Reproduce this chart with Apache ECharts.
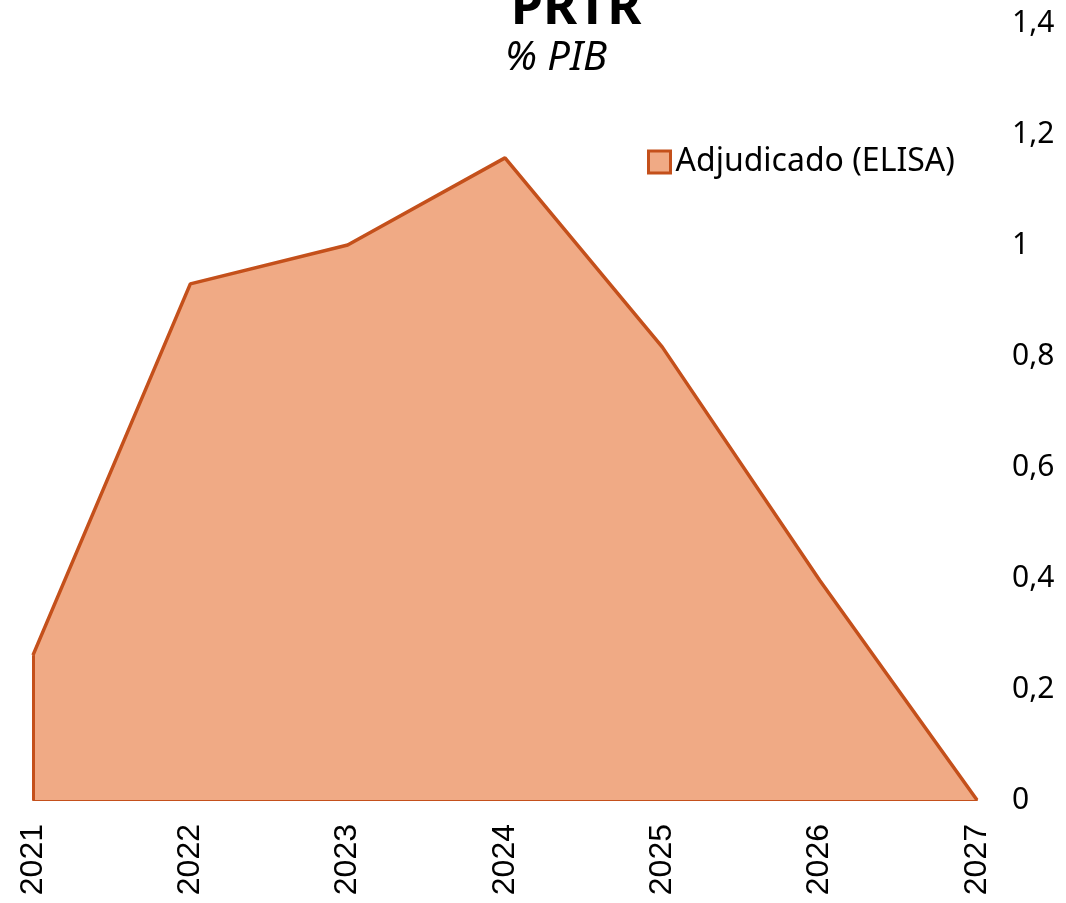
<!DOCTYPE html>
<html><head><meta charset="utf-8">
<script src="https://cdn.jsdelivr.net/npm/echarts@6/dist/echarts.min.js"></script>
<style>html,body{margin:0;padding:0;background:#fff}#c{width:1066px;height:903px}</style>
</head><body><div id="c"></div>
<script>
const categories = ['2021','2022','2023','2024','2025','2026','2027'];
const adjudicado = [0.261, 0.93, 1.0, 1.157, 0.816, 0.396, 0];
const yTicks = [0, 0.2, 0.4, 0.6, 0.8, 1, 1.2, 1.4];
const seriesName = 'Adjudicado (ELISA)';

const fillColor = '#F0AA85';
const lineColor = '#C4501B';
const chart = echarts.init(document.getElementById('c'), null, {renderer:'canvas'});
chart.setOption({
  backgroundColor:'#ffffff',
  animation:false,
  title:[
    {text:'PRTR', left:571, top:-22, textAlign:'center',
     textStyle:{fontFamily:'Noto Sans', fontSize:52, fontWeight:'bold', color:'#000'}},
    {text:'% PIB', left:551, top:34, textAlign:'center',
     textStyle:{fontFamily:'Noto Sans', fontSize:40, fontStyle:'italic', fontWeight:'normal', color:'#000'}}
  ],
  legend:{
    data:[{name:seriesName, icon:'rect'}],
    left:642, top:141, itemWidth:22, itemHeight:22, itemGap:8,
    textStyle:{fontFamily:'Noto Sans', fontSize:32, color:'#000'},
    itemStyle:{color:fillColor, borderColor:lineColor, borderWidth:3}
  },
  grid:{left:33, right:89, top:23, bottom:103, containLabel:false},
  xAxis:{
    type:'category', data:categories, boundaryGap:false,
    axisLine:{show:true, lineStyle:{color:lineColor, width:2}},
    axisTick:{show:false},
    axisLabel:{rotate:90, margin:24, fontFamily:'Liberation Sans', fontSize:32, color:'#000'}
  },
  yAxis:{
    type:'value', position:'right', min:0, max:1.4, interval:0.2,
    axisLine:{show:false}, axisTick:{show:false}, splitLine:{show:false},
    axisLabel:{margin:35, fontFamily:'Noto Sans', fontSize:30, color:'#000', padding:[4,0,0,0],
      formatter:function(v){ const t = yTicks.find(x=>Math.abs(x-v)<1e-9); return (t===undefined? v : t).toString().replace('.', ','); }}
  },
  series:[{
    name:seriesName, type:'line', data:adjudicado,
    symbol:'none', smooth:false,
    lineStyle:{color:lineColor, width:3.5},
    itemStyle:{color:fillColor, borderColor:lineColor},
    areaStyle:{color:fillColor, opacity:1},
    markLine:{
      silent:true, symbol:'none', label:{show:false},
      lineStyle:{color:lineColor, width:3, type:'solid'},
      data:[[{coord:[categories[0],0]},{coord:[categories[0],adjudicado[0]]}]]
    }
  }]
});
</script></body></html>
